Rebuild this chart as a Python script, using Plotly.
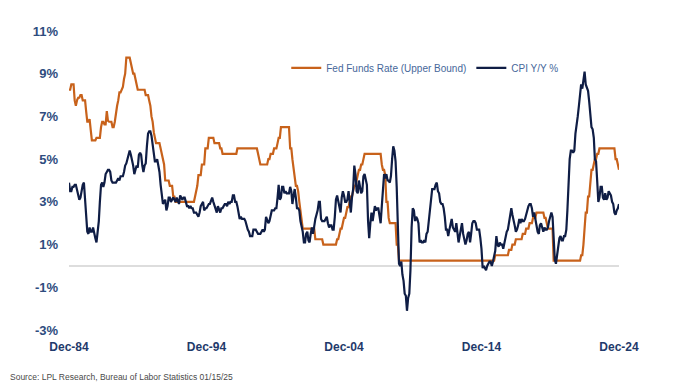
import pandas as pd
import plotly.graph_objects as go

# Monthly observations, Dec-1984 through Dec-2024
start_month = "1984-12-01"

fed_funds_upper = [
    8.25,
    8.25, 8.5, 8.5, 8.5, 7.75, 7.5, 7.75, 7.875, 7.875, 8.0, 8.0, 7.75,          # 1985
    7.75, 7.75, 7.25, 6.75, 6.75, 6.875, 6.375, 5.875, 5.875, 5.875, 5.875, 6.0,  # 1986
    6.0, 6.0, 6.0, 6.5, 6.75, 6.75, 6.625, 6.625, 7.25, 6.8, 6.75, 6.75,          # 1987
    6.75, 6.5, 6.5, 6.75, 7.25, 7.5, 7.75, 8.125, 8.125, 8.25, 8.375, 8.75,       # 1988
    9.0, 9.75, 9.75, 9.75, 9.75, 9.5, 9.25, 9.0, 9.0, 8.75, 8.5, 8.25,            # 1989
    8.25, 8.25, 8.25, 8.25, 8.25, 8.25, 8.0, 8.0, 8.0, 7.75, 7.5, 7.0,            # 1990
    6.75, 6.25, 6.0, 5.75, 5.75, 5.75, 5.75, 5.5, 5.25, 5.0, 4.75, 4.0,           # 1991
    4.0, 4.0, 4.0, 3.75, 3.75, 3.75, 3.25, 3.25, 3.0, 3.0, 3.0, 3.0,              # 1992
    3.0, 3.0, 3.0, 3.0, 3.0, 3.0, 3.0, 3.0, 3.0, 3.0, 3.0, 3.0,                   # 1993
    3.0, 3.25, 3.5, 3.75, 4.25, 4.25, 4.25, 4.75, 4.75, 4.75, 5.5, 5.5,           # 1994
    5.5, 6.0, 6.0, 6.0, 6.0, 6.0, 5.75, 5.75, 5.75, 5.75, 5.75, 5.5,              # 1995
    5.5, 5.25, 5.25, 5.25, 5.25, 5.25, 5.25, 5.25, 5.25, 5.25, 5.25, 5.25,        # 1996
    5.25, 5.25, 5.5, 5.5, 5.5, 5.5, 5.5, 5.5, 5.5, 5.5, 5.5, 5.5,                 # 1997
    5.5, 5.5, 5.5, 5.5, 5.5, 5.5, 5.5, 5.5, 5.25, 5.0, 4.75, 4.75,                # 1998
    4.75, 4.75, 4.75, 4.75, 4.75, 5.0, 5.0, 5.25, 5.25, 5.25, 5.5, 5.5,           # 1999
    5.5, 5.75, 6.0, 6.0, 6.5, 6.5, 6.5, 6.5, 6.5, 6.5, 6.5, 6.5,                  # 2000
    5.5, 5.5, 5.0, 4.5, 4.0, 3.75, 3.75, 3.5, 3.0, 2.5, 2.0, 1.75,                # 2001
    1.75, 1.75, 1.75, 1.75, 1.75, 1.75, 1.75, 1.75, 1.75, 1.75, 1.25, 1.25,       # 2002
    1.25, 1.25, 1.25, 1.25, 1.25, 1.0, 1.0, 1.0, 1.0, 1.0, 1.0, 1.0,              # 2003
    1.0, 1.0, 1.0, 1.0, 1.0, 1.25, 1.25, 1.5, 1.75, 1.75, 2.0, 2.25,              # 2004
    2.25, 2.5, 2.75, 2.75, 3.0, 3.25, 3.25, 3.5, 3.75, 3.75, 4.0, 4.25,           # 2005
    4.5, 4.5, 4.75, 4.75, 5.0, 5.25, 5.25, 5.25, 5.25, 5.25, 5.25, 5.25,          # 2006
    5.25, 5.25, 5.25, 5.25, 5.25, 5.25, 5.25, 5.25, 4.75, 4.5, 4.5, 4.25,         # 2007
    3.0, 3.0, 2.25, 2.0, 2.0, 2.0, 2.0, 2.0, 2.0, 1.0, 1.0, 0.25,                 # 2008
    0.25, 0.25, 0.25, 0.25, 0.25, 0.25, 0.25, 0.25, 0.25, 0.25, 0.25, 0.25,       # 2009
    0.25, 0.25, 0.25, 0.25, 0.25, 0.25, 0.25, 0.25, 0.25, 0.25, 0.25, 0.25,       # 2010
    0.25, 0.25, 0.25, 0.25, 0.25, 0.25, 0.25, 0.25, 0.25, 0.25, 0.25, 0.25,       # 2011
    0.25, 0.25, 0.25, 0.25, 0.25, 0.25, 0.25, 0.25, 0.25, 0.25, 0.25, 0.25,       # 2012
    0.25, 0.25, 0.25, 0.25, 0.25, 0.25, 0.25, 0.25, 0.25, 0.25, 0.25, 0.25,       # 2013
    0.25, 0.25, 0.25, 0.25, 0.25, 0.25, 0.25, 0.25, 0.25, 0.25, 0.25, 0.25,       # 2014
    0.25, 0.25, 0.25, 0.25, 0.25, 0.25, 0.25, 0.25, 0.25, 0.25, 0.25, 0.5,        # 2015
    0.5, 0.5, 0.5, 0.5, 0.5, 0.5, 0.5, 0.5, 0.5, 0.5, 0.5, 0.75,                  # 2016
    0.75, 0.75, 1.0, 1.0, 1.0, 1.25, 1.25, 1.25, 1.25, 1.25, 1.25, 1.5,           # 2017
    1.5, 1.5, 1.75, 1.75, 1.75, 2.0, 2.0, 2.0, 2.25, 2.25, 2.25, 2.5,             # 2018
    2.5, 2.5, 2.5, 2.5, 2.5, 2.5, 2.25, 2.25, 2.0, 1.75, 1.75, 1.75,              # 2019
    1.75, 1.75, 0.25, 0.25, 0.25, 0.25, 0.25, 0.25, 0.25, 0.25, 0.25, 0.25,       # 2020
    0.25, 0.25, 0.25, 0.25, 0.25, 0.25, 0.25, 0.25, 0.25, 0.25, 0.25, 0.25,       # 2021
    0.25, 0.25, 0.5, 0.5, 1.0, 1.75, 2.5, 2.5, 3.25, 3.25, 4.0, 4.5,              # 2022
    4.5, 4.75, 5.0, 5.0, 5.25, 5.25, 5.5, 5.5, 5.5, 5.5, 5.5, 5.5,                # 2023
    5.5, 5.5, 5.5, 5.5, 5.5, 5.5, 5.5, 5.5, 5.0, 5.0, 4.75, 4.5,                  # 2024
]

cpi_yoy = [
    3.9,
    3.5, 3.5, 3.7, 3.7, 3.8, 3.8, 3.6, 3.3, 3.1, 3.2, 3.5, 3.8,    # 1985
    3.9, 3.1, 2.2, 1.6, 1.5, 1.8, 1.6, 1.6, 1.8, 1.5, 1.3, 1.1,    # 1986
    1.5, 2.1, 3.0, 3.8, 3.9, 3.7, 3.9, 4.3, 4.4, 4.5, 4.5, 4.4,    # 1987
    4.0, 3.9, 3.9, 3.9, 3.9, 4.0, 4.1, 4.0, 4.2, 4.2, 4.2, 4.4,    # 1988
    4.7, 4.8, 5.0, 5.1, 5.4, 5.2, 5.0, 4.7, 4.3, 4.5, 4.7, 4.6,    # 1989
    5.2, 5.3, 5.2, 4.7, 4.4, 4.7, 4.8, 5.6, 6.2, 6.3, 6.3, 6.1,    # 1990
    5.7, 5.3, 4.9, 4.9, 5.0, 4.7, 4.4, 3.8, 3.4, 2.9, 3.0, 3.1,    # 1991
    2.6, 2.8, 3.2, 3.2, 3.0, 3.1, 3.2, 3.1, 3.0, 3.2, 3.0, 2.9,    # 1992
    3.3, 3.2, 3.1, 3.2, 3.2, 3.0, 2.8, 2.8, 2.7, 2.8, 2.7, 2.7,    # 1993
    2.5, 2.5, 2.5, 2.4, 2.3, 2.5, 2.8, 2.9, 3.0, 2.6, 2.7, 2.7,    # 1994
    2.8, 2.9, 2.9, 3.1, 3.2, 3.0, 2.8, 2.6, 2.5, 2.8, 2.6, 2.5,    # 1995
    2.7, 2.7, 2.8, 2.9, 2.9, 2.8, 3.0, 2.9, 3.0, 3.0, 3.3, 3.3,    # 1996
    3.0, 3.0, 2.8, 2.5, 2.2, 2.3, 2.2, 2.2, 2.2, 2.1, 1.8, 1.7,    # 1997
    1.6, 1.4, 1.4, 1.4, 1.7, 1.7, 1.7, 1.6, 1.5, 1.5, 1.5, 1.6,    # 1998
    1.7, 1.6, 1.7, 2.3, 2.1, 2.0, 2.1, 2.3, 2.6, 2.6, 2.6, 2.7,    # 1999
    2.7, 3.2, 3.8, 3.1, 3.2, 3.7, 3.7, 3.4, 3.5, 3.4, 3.4, 3.4,    # 2000
    3.7, 3.5, 2.9, 3.3, 3.6, 3.2, 2.7, 2.7, 2.6, 2.1, 1.9, 1.6,    # 2001
    1.1, 1.1, 1.5, 1.6, 1.2, 1.1, 1.5, 1.8, 1.5, 2.0, 2.2, 2.4,    # 2002
    2.6, 3.0, 3.0, 2.2, 2.1, 2.1, 2.1, 2.2, 2.3, 2.0, 1.8, 1.9,    # 2003
    1.9, 1.7, 1.7, 2.3, 3.1, 3.3, 3.0, 2.7, 2.5, 3.2, 3.5, 3.3,    # 2004
    3.0, 3.0, 3.1, 3.5, 2.8, 2.5, 3.2, 3.6, 4.7, 4.3, 3.5, 3.4,    # 2005
    4.0, 3.6, 3.4, 3.5, 4.2, 4.3, 4.1, 3.8, 2.1, 1.3, 2.0, 2.5,    # 2006
    2.1, 2.4, 2.8, 2.6, 2.7, 2.7, 2.4, 2.0, 2.8, 3.5, 4.3, 4.1,    # 2007
    4.3, 4.0, 4.0, 3.9, 4.2, 5.0, 5.6, 5.4, 4.9, 3.7, 1.1, 0.1,    # 2008
    0.0, 0.2, -0.4, -0.7, -1.3, -1.4, -2.1, -1.5, -1.3, -0.2, 1.8, 2.7,  # 2009
    2.6, 2.1, 2.3, 2.2, 2.0, 1.1, 1.2, 1.1, 1.1, 1.2, 1.1, 1.5,    # 2010
    1.6, 2.1, 2.7, 3.2, 3.6, 3.6, 3.6, 3.8, 3.9, 3.5, 3.4, 3.0,    # 2011
    2.9, 2.9, 2.7, 2.3, 1.7, 1.7, 1.4, 1.7, 2.0, 2.2, 1.8, 1.7,    # 2012
    1.6, 2.0, 1.5, 1.1, 1.4, 1.8, 2.0, 1.5, 1.2, 1.0, 1.2, 1.5,    # 2013
    1.6, 1.1, 1.5, 2.0, 2.1, 2.1, 2.0, 1.7, 1.7, 1.7, 1.3, 0.8,    # 2014
    -0.1, 0.0, -0.1, -0.2, 0.0, 0.1, 0.2, 0.2, 0.0, 0.2, 0.5, 0.7,  # 2015
    1.4, 1.0, 0.9, 1.1, 1.0, 1.0, 0.8, 1.1, 1.5, 1.6, 1.7, 2.1,    # 2016
    2.5, 2.7, 2.4, 2.2, 1.9, 1.6, 1.7, 1.9, 2.2, 2.0, 2.2, 2.1,    # 2017
    2.1, 2.2, 2.4, 2.5, 2.8, 2.9, 2.9, 2.7, 2.3, 2.5, 2.2, 1.9,    # 2018
    1.6, 1.5, 1.9, 2.0, 1.8, 1.6, 1.8, 1.7, 1.7, 1.8, 2.1, 2.3,    # 2019
    2.5, 2.3, 1.5, 0.3, 0.1, 0.6, 1.0, 1.3, 1.4, 1.2, 1.2, 1.4,    # 2020
    1.4, 1.7, 2.6, 4.2, 5.0, 5.4, 5.4, 5.3, 5.4, 6.2, 6.8, 7.0,    # 2021
    7.5, 7.9, 8.5, 8.3, 8.6, 9.1, 8.5, 8.3, 8.2, 7.7, 7.1, 6.5,    # 2022
    6.4, 6.0, 5.0, 4.9, 4.0, 3.0, 3.2, 3.7, 3.7, 3.2, 3.1, 3.4,    # 2023
    3.1, 3.2, 3.5, 3.4, 3.3, 3.0, 2.9, 2.5, 2.4, 2.6, 2.7, 2.9,    # 2024
]

x_tick_dates = ["1984-12-01", "1994-12-01", "2004-12-01", "2014-12-01", "2024-12-01"]
x_tick_labels = ["Dec-84", "Dec-94", "Dec-04", "Dec-14", "Dec-24"]
y_tick_vals = [-3, -1, 1, 3, 5, 7, 9, 11]
y_tick_labels = ["-3%", "-1%", "1%", "3%", "5%", "7%", "9%", "11%"]

months = pd.date_range(start_month, periods=len(cpi_yoy), freq="MS")

fig = go.Figure()
fig.add_trace(go.Scatter(
    x=months, y=fed_funds_upper, mode="lines",
    name="Fed Funds Rate (Upper Bound)",
    line=dict(color="#c8621b", width=2.2),
))
fig.add_trace(go.Scatter(
    x=months, y=cpi_yoy, mode="lines",
    name="CPI Y/Y %",
    line=dict(color="#0f1d45", width=2.2),
))

# page body adds an 8px offset, so the figure is 8px smaller than the window
fig.update_layout(
    width=677, height=379,
    margin=dict(l=61, r=66, t=23, b=57),
    paper_bgcolor="white", plot_bgcolor="white",
    font=dict(family="Liberation Sans, Arial, sans-serif"),
    showlegend=True,
    legend=dict(
        orientation="h", x=0.395, y=0.925, xanchor="left", yanchor="top",
        font=dict(size=10, color="#46679a"),
        bgcolor="rgba(0,0,0,0)", itemwidth=30, tracegroupgap=0,
    ),
    annotations=[dict(
        text="Source: LPL Research, Bureau of Labor Statistics 01/15/25",
        xref="paper", yref="paper", x=-0.111, y=-0.158,
        xanchor="left", yanchor="middle", showarrow=False,
        font=dict(size=8.5, color="#4a4a4a"),
    )],
)

fig.update_xaxes(
    range=["1984-12-01", "2024-12-01"],
    tickmode="array", tickvals=x_tick_dates, ticktext=x_tick_labels,
    showgrid=False, zeroline=False, showline=False, ticks="",
    tickfont=dict(size=12, color="#1f3a6b", family="Liberation Sans, Arial, sans-serif", weight="bold"),
    ticklabelstandoff=8,
)
fig.update_yaxes(
    range=[-3, 11],
    tickmode="array", tickvals=y_tick_vals, ticktext=y_tick_labels,
    showgrid=False, showline=False, ticks="",
    zeroline=True, zerolinecolor="#dddddd", zerolinewidth=1.5,
    tickfont=dict(size=13, color="#2e4c7e", family="Liberation Sans, Arial, sans-serif", weight="bold"),
    ticklabelstandoff=10,
)

fig.write_html("out.html")
